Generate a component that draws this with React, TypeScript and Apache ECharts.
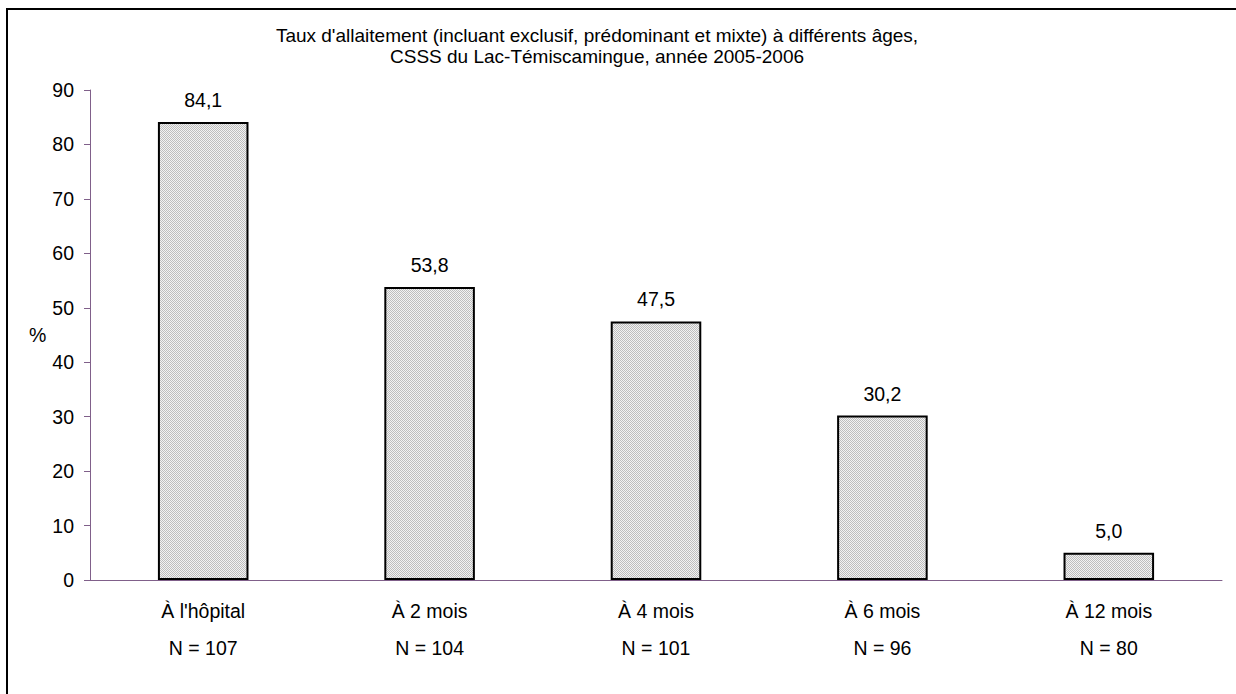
import React, { useEffect, useRef } from "react";
import * as echarts from "echarts";

const categories = ["À l'hôpital", "À 2 mois", "À 4 mois", "À 6 mois", "À 12 mois"];
const sampleSizes = ["N = 107", "N = 104", "N = 101", "N = 96", "N = 80"];
const values = [84.1, 53.8, 47.5, 30.2, 5.0];
const titleLines = [
  "Taux d'allaitement (incluant exclusif, prédominant et mixte) à différents âges,",
  "CSSS du Lac-Témiscamingue, année 2005-2006",
];

const FONT = "'Liberation Sans', Arial, sans-serif";
const AXIS_COLOR = "#80608a";
const FS = 19.5;

function makePattern(): HTMLCanvasElement {
  const c = document.createElement("canvas");
  c.width = 2;
  c.height = 2;
  const ctx = c.getContext("2d")!;
  ctx.fillStyle = "#f2f2f2";
  ctx.fillRect(0, 0, 2, 2);
  ctx.fillStyle = "#bdbdbd";
  ctx.fillRect(0, 0, 1, 1);
  ctx.fillRect(1, 1, 1, 1);
  return c;
}

export default function App() {
  const ref = useRef<HTMLDivElement>(null);
  useEffect(() => {
    document.body.style.margin = "0";
    const chart = echarts.init(ref.current!, undefined, { renderer: "svg" });
    const pattern = makePattern();
    chart.setOption({
      animation: false,
      backgroundColor: "#ffffff",
      title: {
        text: titleLines.join("\n"),
        left: 592,
        top: 20,
        textAlign: "center",
        textStyle: {
          fontFamily: FONT,
          fontSize: 19,
          fontWeight: "normal",
          color: "#000",
          lineHeight: 21,
        },
      },
      grid: { left: 90, right: 14, top: 90, bottom: 114 },
      xAxis: {
        type: "category",
        data: categories.map((c, i) => c + "\n" + sampleSizes[i]),
        axisLine: { lineStyle: { color: AXIS_COLOR, width: 1 } },
        axisTick: { show: false },
        axisLabel: {
          fontFamily: FONT,
          fontSize: FS,
          color: "#000",
          lineHeight: 37,
          margin: 12,
          interval: 0,
        },
      },
      yAxis: {
        type: "value",
        min: 0,
        max: 90,
        interval: 10,
        axisLine: { show: true, lineStyle: { color: AXIS_COLOR, width: 1 } },
        axisTick: { show: true, length: 6, lineStyle: { color: AXIS_COLOR } },
        splitLine: { show: false },
        axisLabel: {
          fontFamily: FONT,
          fontSize: FS,
          color: "#000",
          margin: 16,
        },
      },
      series: [
        {
          type: "bar",
          data: values,
          barCategoryGap: "60%",
          itemStyle: {
            color: { image: pattern, repeat: "repeat" },
            borderColor: "#000",
            borderWidth: 2,
          },
          label: {
            show: true,
            position: "top",
            distance: 12,
            fontFamily: FONT,
            fontSize: FS,
            color: "#000",
            formatter: (p: any) => p.value.toFixed(1).replace(".", ","),
          },
        },
      ],
      graphic: [
        {
          type: "rect",
          shape: { x: 7, y: 9, width: 1260, height: 720 },
          style: { fill: "none", stroke: "#000", lineWidth: 2 },
          silent: true,
        },
        {
          type: "text",
          x: 29,
          y: 325,
          style: { text: "%", font: `${FS}px ${FONT}`, fill: "#000" },
        },
      ],
    });
    return () => chart.dispose();
  }, []);
  return <div ref={ref} style={{ width: 1236, height: 694 }} />;
}
